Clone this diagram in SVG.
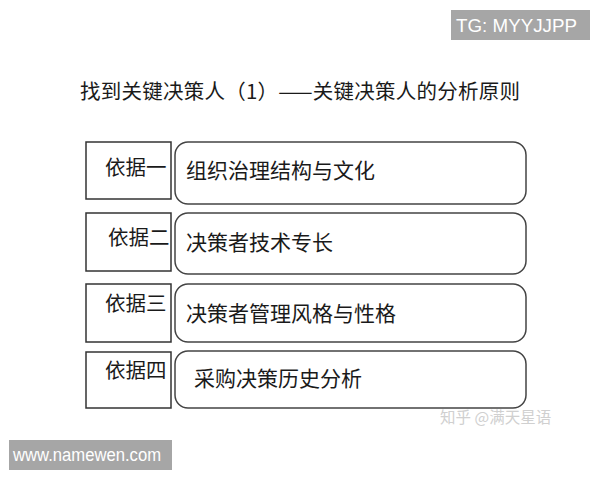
<svg xmlns="http://www.w3.org/2000/svg" width="600" height="480" viewBox="0 0 600 480">
<style>
.lab{fill:#fff;stroke:#333;stroke-width:1.5}
.card{fill:#fff;stroke:#444;stroke-width:1.5}
.t{font-family:"Noto Sans CJK SC","Noto Sans",sans-serif;fill:#1a1a1a}
.wm{font-family:"Liberation Sans",Arial,sans-serif;fill:#fff;font-size:18px}
</style>
<rect width="600" height="480" fill="#fff"/>
<g id="tg"><rect x="451" y="10" width="139" height="30" fill="#a6a6a6"/><text class="wm" x="456" y="31.5" textLength="121" lengthAdjust="spacingAndGlyphs">TG: MYYJJPP</text></g>
<g id="title"><text class="t" x="80" y="99" font-size="20.5" textLength="440">找到关键决策人（1）——关键决策人的分析原则</text></g>
<g id="row1">
<rect class="lab" x="86" y="142" width="85" height="57"/>
<text class="t" x="105" y="175" font-size="20.5">依据一</text>
<rect class="card" x="175" y="142" width="351" height="62" rx="13"/>
<text class="t" x="186" y="178" font-size="21">组织治理结构与文化</text>
</g>
<g id="row2">
<rect class="lab" x="86" y="213" width="85" height="58"/>
<text class="t" x="108" y="245" font-size="20.5">依据二</text>
<rect class="card" x="175" y="213" width="351" height="61" rx="13"/>
<text class="t" x="186" y="250" font-size="21">决策者技术专长</text>
</g>
<g id="row3">
<rect class="lab" x="86" y="284" width="85" height="58"/>
<text class="t" x="105" y="311" font-size="20.5">依据三</text>
<rect class="card" x="175" y="284" width="351" height="58" rx="13"/>
<text class="t" x="186" y="321" font-size="21">决策者管理风格与性格</text>
</g>
<g id="row4">
<rect class="lab" x="86" y="352" width="85" height="56"/>
<text class="t" x="105" y="378" font-size="20.5">依据四</text>
<rect class="card" x="175" y="351" width="351" height="57" rx="13"/>
<text class="t" x="194" y="386" font-size="21">采购决策历史分析</text>
</g>
<g id="connectors"/>
<g id="zhihu"><text x="440" y="423" font-family="Noto Sans CJK SC,sans-serif" font-size="15.5" fill="#d0d0d0">知乎 @满天星语</text></g>
<g id="www"><rect x="9" y="440" width="163" height="30" fill="#a6a6a6"/><text class="wm" x="13" y="461" textLength="148" lengthAdjust="spacingAndGlyphs">www.namewen.com</text></g>
</svg>
